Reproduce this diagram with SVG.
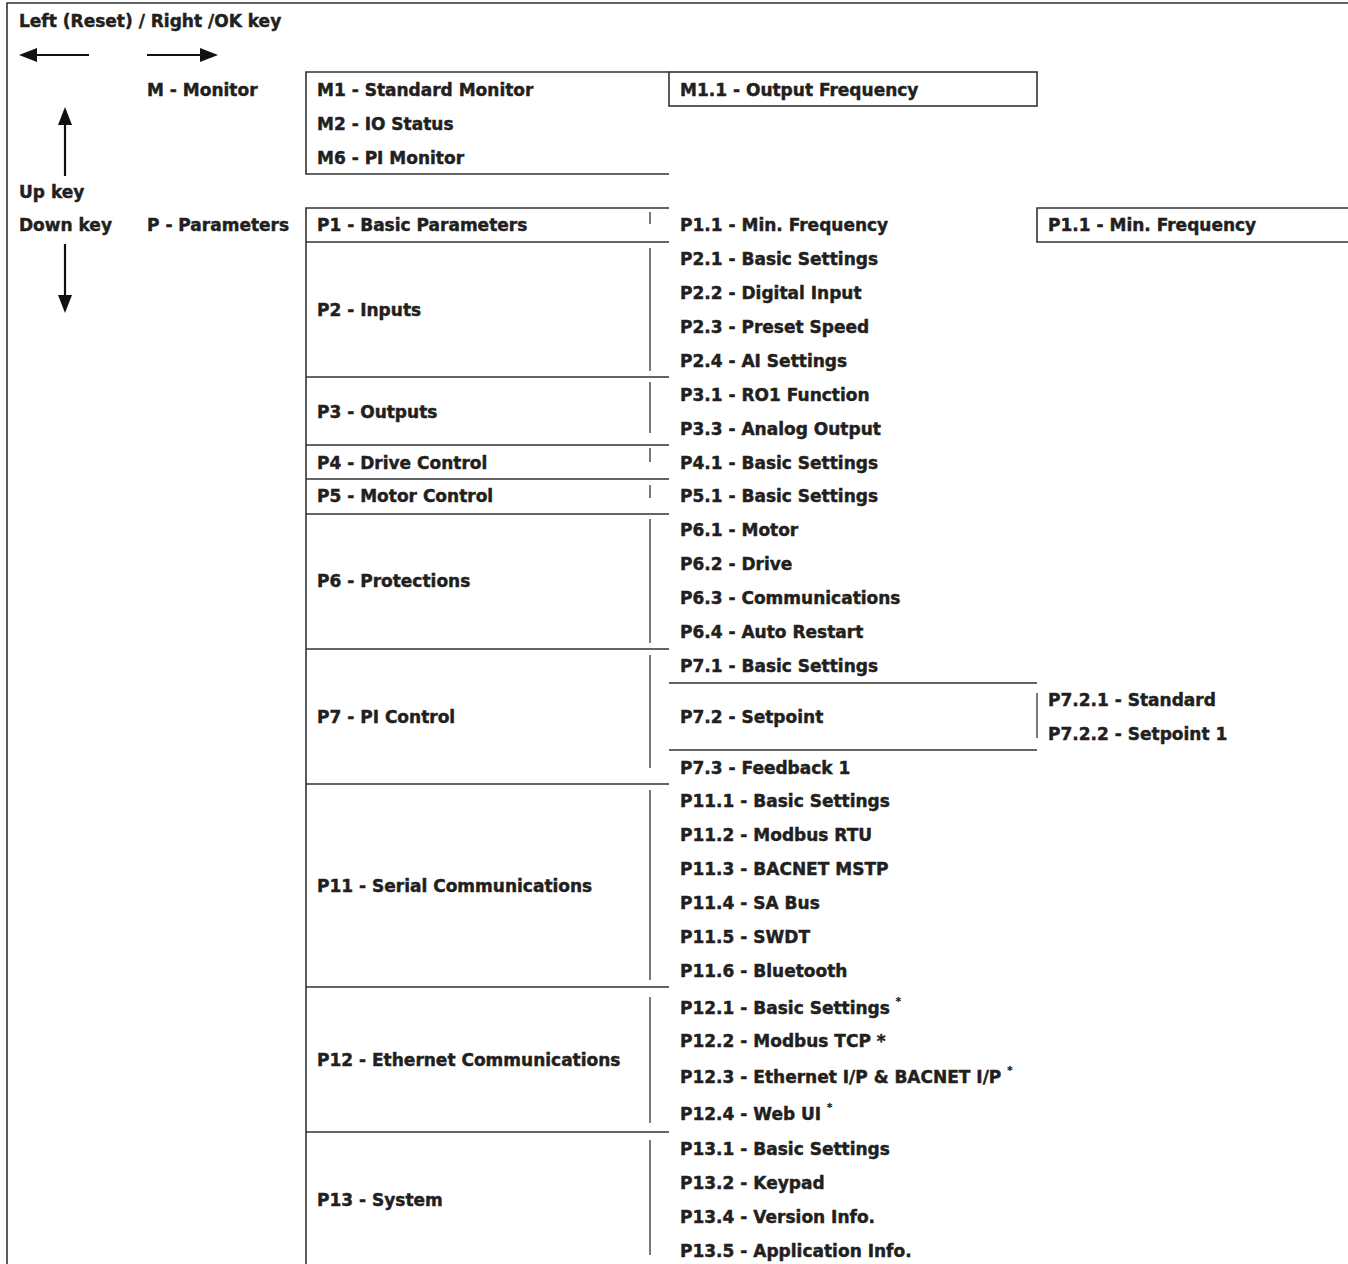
<svg xmlns="http://www.w3.org/2000/svg" width="1348" height="1264" viewBox="0 0 1348 1264">
<style>
text{font-family:"DejaVu Sans","Liberation Sans",sans-serif;font-weight:bold;font-size:17px;fill:#231f20;stroke:#231f20;stroke-width:0.45}
.ln{stroke:#333;stroke-width:1.6;fill:none}
.tk{stroke:#333;stroke-width:1.3;fill:none}
.ar{stroke:#111;stroke-width:2.2;fill:none}
.sup{font-size:10px;stroke-width:0.3}
</style>
<defs>
<marker id="ah" viewBox="0 0 18 14" refX="2" refY="7" markerWidth="18" markerHeight="14" markerUnits="userSpaceOnUse" orient="auto"><path d="M0,0 L18,7 L0,14 z" fill="#111"/></marker>
</defs>
<rect width="1348" height="1264" fill="#fff"/>
<g id="frame"><path class="ln" d="M7,1264 V3 H1348"/></g>

<g id="connectors">
<path class="ar" d="M89,55 H35" marker-end="url(#ah)"/>
<path class="ar" d="M147,55 H202" marker-end="url(#ah)"/>
<path class="ar" d="M65,176 V123" marker-end="url(#ah)"/>
<path class="ar" d="M65,244 V297" marker-end="url(#ah)"/>
<path class="tk" d="M650,212 V224"/>
<path class="tk" d="M650,248 V371"/>
<path class="tk" d="M650,382 V433"/>
<path class="tk" d="M650,448 V462"/>
<path class="tk" d="M650,485 V498"/>
<path class="tk" d="M650,519 V643"/>
<path class="tk" d="M650,655 V768"/>
<path class="tk" d="M650,790 V980"/>
<path class="tk" d="M650,997 V1123"/>
<path class="tk" d="M650,1140 V1255"/>
<path class="tk" d="M1037,693 V738"/>
</g>

<g id="keys">
<text x="19" y="27">Left (Reset) / Right /OK key</text>
<text x="19" y="198">Up key</text>
<text x="19" y="231">Down key</text>
</g>

<g id="M">
<text x="147" y="96">M - Monitor</text>
</g>
<g id="M-box">
<path class="ln" d="M669,72 H306 V174 H669"/>
<text x="317" y="96">M1 - Standard Monitor</text>
<text x="317" y="130">M2 - IO Status</text>
<text x="317" y="164">M6 - PI Monitor</text>
</g>
<g id="M1.1">
<rect class="ln" x="669" y="72" width="368" height="34"/>
<text x="680" y="96">M1.1 - Output Frequency</text>
</g>

<g id="P">
<text x="147" y="231">P - Parameters</text>
</g>
<g id="P-box">
<path class="ln" d="M669,208 H306 V1264"/>
<path class="ln" d="M306,242 H669 M306,377 H669 M306,445 H669 M306,479 H669 M306,514 H669 M306,649 H669 M306,784 H669 M306,987 H669 M306,1132 H669"/>
</g>
<g id="P1"><text x="317" y="231">P1 - Basic Parameters</text><text x="680" y="231">P1.1 - Min. Frequency</text></g>
<g id="P1.1-box">
<path class="ln" d="M1349,208 H1037 V242 H1349"/>
<text x="1048" y="231">P1.1 - Min. Frequency</text>
</g>
<g id="P2"><text x="317" y="316">P2 - Inputs</text>
<text x="680" y="265">P2.1 - Basic Settings</text>
<text x="680" y="299">P2.2 - Digital Input</text>
<text x="680" y="333">P2.3 - Preset Speed</text>
<text x="680" y="367">P2.4 - AI Settings</text></g>
<g id="P3"><text x="317" y="418">P3 - Outputs</text>
<text x="680" y="401">P3.1 - RO1 Function</text>
<text x="680" y="435">P3.3 - Analog Output</text></g>
<g id="P4"><text x="317" y="469">P4 - Drive Control</text><text x="680" y="469">P4.1 - Basic Settings</text></g>
<g id="P5"><text x="317" y="502">P5 - Motor Control</text><text x="680" y="502">P5.1 - Basic Settings</text></g>
<g id="P6"><text x="317" y="587">P6 - Protections</text>
<text x="680" y="536">P6.1 - Motor</text>
<text x="680" y="570">P6.2 - Drive</text>
<text x="680" y="604">P6.3 - Communications</text>
<text x="680" y="638">P6.4 - Auto Restart</text></g>
<g id="P7"><text x="317" y="723">P7 - PI Control</text>
<text x="680" y="672">P7.1 - Basic Settings</text>
<text x="680" y="774">P7.3 - Feedback 1</text></g>
<g id="P7.2">
<path class="ln" d="M669,683 H1037 M669,750 H1037"/>
<text x="680" y="723">P7.2 - Setpoint</text>
<text x="1048" y="706">P7.2.1 - Standard</text>
<text x="1048" y="740">P7.2.2 - Setpoint 1</text>
</g>
<g id="P11"><text x="317" y="892">P11 - Serial Communications</text>
<text x="680" y="807">P11.1 - Basic Settings</text>
<text x="680" y="841">P11.2 - Modbus RTU</text>
<text x="680" y="875">P11.3 - BACNET MSTP</text>
<text x="680" y="909">P11.4 - SA Bus</text>
<text x="680" y="943">P11.5 - SWDT</text>
<text x="680" y="977">P11.6 - Bluetooth</text></g>
<g id="P12"><text x="317" y="1066">P12 - Ethernet Communications</text>
<text x="680" y="1014">P12.1 - Basic Settings <tspan class="sup" dy="-9">*</tspan></text>
<text x="680" y="1047">P12.2 - Modbus TCP *</text>
<text x="680" y="1083">P12.3 - Ethernet I/P &amp; BACNET I/P <tspan class="sup" dy="-9">*</tspan></text>
<text x="680" y="1120">P12.4 - Web UI <tspan class="sup" dy="-9">*</tspan></text></g>
<g id="P13"><text x="317" y="1206">P13 - System</text>
<text x="680" y="1155">P13.1 - Basic Settings</text>
<text x="680" y="1189">P13.2 - Keypad</text>
<text x="680" y="1223">P13.4 - Version Info.</text>
<text x="680" y="1257">P13.5 - Application Info.</text></g>
</svg>
